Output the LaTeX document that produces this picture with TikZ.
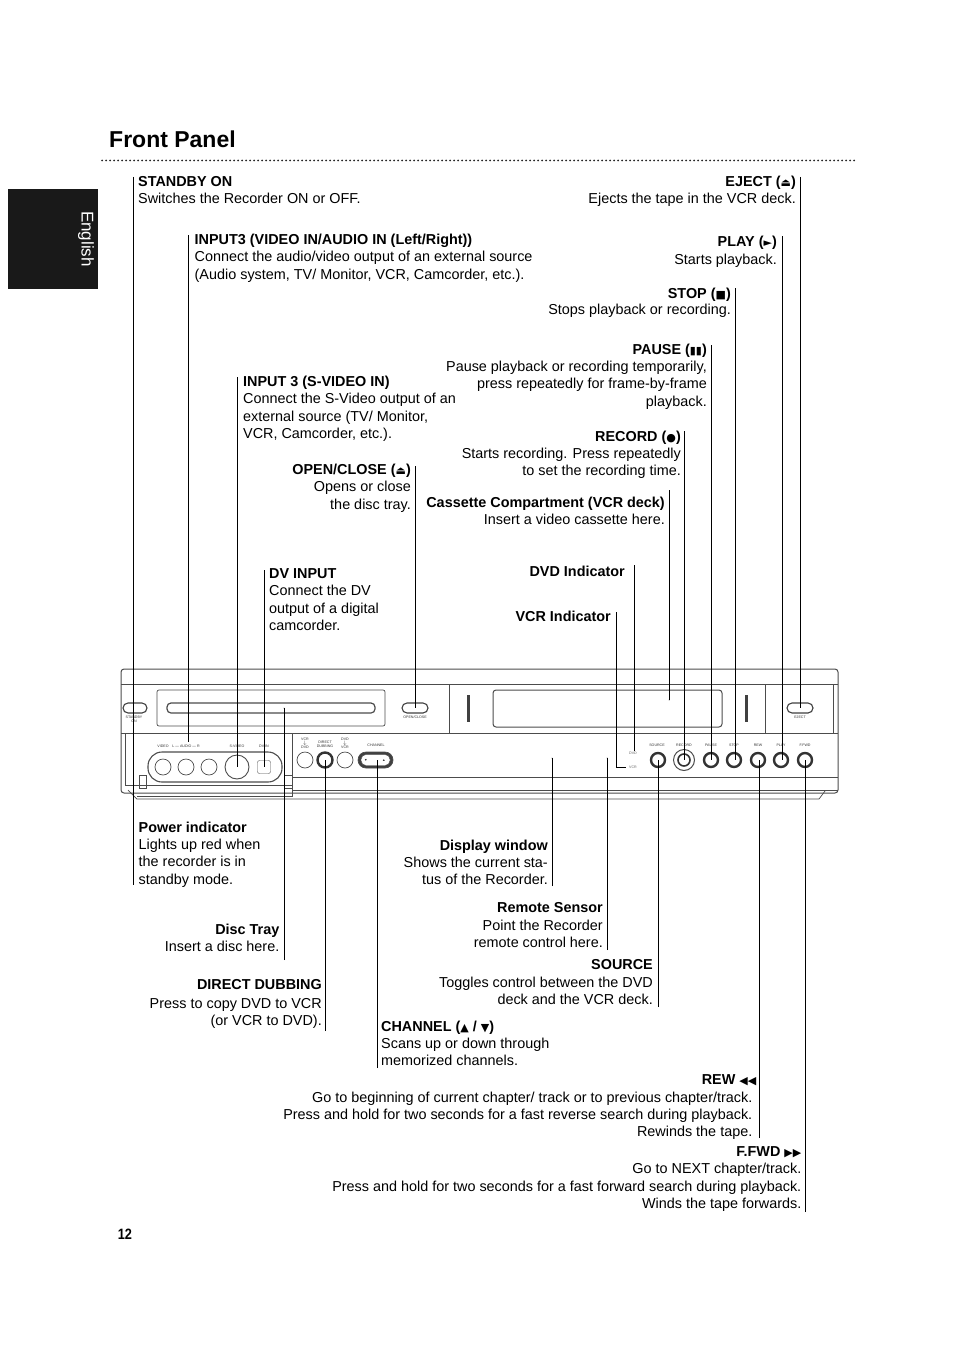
\documentclass[tikz,border=0pt]{standalone}
\usepackage{fontspec}
\setmainfont{Liberation Sans}
\newfontfamily\symfont{DejaVu Sans}
\newcommand{\sym}[1]{{\symfont\fontsize{11}{13}\selectfont #1}}
\begin{document}
\begin{tikzpicture}[x=1pt, y=-1pt,
	toplabel/.style={font=\fontsize{14.4}{17.3}\selectfont, inner sep=0pt, align=left, anchor=north west},
	rightlabel/.style={font=\fontsize{14.4}{17.3}\selectfont, inner sep=0pt, align=right, anchor=north east},
	leader/.style={line width=0.8pt, black},
	panel/.style={line width=0.7pt, black!70},
	tinylabel/.style={font=\fontsize{3.6}{4}\selectfont, inner sep=0pt, text=black!80},
	ring/.style={shape=circle, draw=black!70, line width=0.7pt, fill=white, inner sep=0pt},
	knob/.style={shape=circle, draw=black!80, line width=2.4pt, fill=white, inner sep=0pt, minimum size=14pt},
	pill/.style={shape=rectangle, rounded corners=5pt, draw=black!75, line width=1.1pt, fill=white, inner sep=0pt, minimum width=26pt, minimum height=10pt}]
	\useasboundingbox (0, 0) rectangle (954, 1351);
	% Heading and side tab:
	\node[font=\bfseries\fontsize{23}{26}\selectfont, inner sep=0pt, anchor=north west] (title) at (109, 131){Front Panel};
	\draw[line width=2pt, dash pattern={on 0pt off 4pt}, line cap=round, black!85] (102, 160.5) -- (855, 160.5);
	\node[shape=rectangle, fill=black!90, minimum width=90pt, minimum height=100pt, inner sep=0pt] (tab) at (53, 239){};
	\node[font=\fontsize{17}{20}\selectfont, text=white, rotate=-90, inner sep=0pt] (tabtext) at (86, 239){English};
	\node[font=\bfseries\fontsize{15}{17}\selectfont, xscale=0.85, inner sep=0pt] (page) at (125, 1234){12};
	% Recorder body:
	\draw[panel, rounded corners=3pt, line width=1pt] (121, 793) -- (121, 669) -- (838, 669) -- (838, 793) -- cycle;
	\draw[panel] (121, 684) -- (838, 684);
	\draw[panel] (121, 733) -- (838, 733);
	\draw[panel] (293, 777) -- (838, 777);
	\draw[panel] (293, 790) -- (838, 790);
	\draw[panel] (128, 790) -- (137, 799) -- (819, 799) -- (825, 791);
	\draw[panel] (125, 733) -- (125, 785) -- (292, 785);
	\draw[panel] (292, 733) -- (292, 796) -- (137, 796);
	\draw[panel] (139, 775) rectangle (146, 788);
	\draw[panel] (284, 775) rectangle (292, 788);
	\draw[panel, rounded corners=2pt] (157, 690) rectangle (385, 726);
	\draw[panel, rounded corners=4pt, line width=1.2pt] (167, 703) rectangle (375, 713);
	\draw[panel] (449, 684) rectangle (765, 733);
	\draw[panel] (833, 684) -- (833, 733);
	\draw[panel, rounded corners=3pt, line width=1pt] (493, 690) rectangle (722, 727);
	\fill[black!75] (467, 695) rectangle (469.5, 722);
	\fill[black!75] (745, 695) rectangle (747.5, 722);
	\draw[panel, rounded corners=14pt, line width=1.1pt] (148, 752) rectangle (282, 782);
	\draw[panel, rounded corners=8pt, fill=black!75] (358, 752) rectangle (393, 768);
	\node[shape=rectangle, rounded corners=5pt, fill=white, draw=black!70, minimum width=29pt, minimum height=11pt, inner sep=0pt] (chanbtn) at (375.5, 760){};
	\node[tinylabel] (chandn) at (366, 760){▼};
	\node[tinylabel] (chanup) at (384, 760){▲};
	% Buttons and sockets:
	\node[pill, minimum width=24pt] (standby) at (135, 708){};
	\node[pill] (openclose) at (415, 708){};
	\node[pill] (eject) at (800, 708){};
	\node[ring, minimum size=16pt] (videoin) at (163, 767){};
	\node[ring, minimum size=16pt] (audiol) at (186, 767){};
	\node[ring, minimum size=16pt] (audior) at (209, 767){};
	\node[ring, minimum size=24pt, line width=0.9pt] (svideo) at (237, 767){};
	\node[shape=rectangle, rounded corners=2pt, draw=black!70, fill=white, minimum size=13pt, inner sep=0pt] (dvin) at (264, 767){};
	\node[ring, minimum size=16pt] (vcrdvd) at (305, 760){};
	\node[knob, minimum size=15pt] (dubbing) at (325, 760){};
	\node[ring, minimum size=16pt] (dvdvcr) at (345, 760){};
	\node[knob] (source) at (658, 760){};
	\node[ring, minimum size=21pt, line width=1pt] (recordout) at (684, 760){};
	\node[knob, minimum size=12pt, line width=1.6pt] (record) at (684, 760){};
	\node[knob] (pause) at (711, 760){};
	\node[knob] (stop) at (734, 760){};
	\node[knob] (rew) at (758, 760){};
	\node[knob] (play) at (781, 760){};
	\node[knob] (ffwd) at (805, 760){};
	\node[shape=circle, fill=black!70, inner sep=0pt, minimum size=1pt] (remote) at (607, 758){};
	\node[shape=circle, fill=black!70, inner sep=0pt, minimum size=1pt] (display) at (552, 758){};
	\node[shape=circle, fill=black!70, inner sep=0pt, minimum size=1pt] (tray) at (284, 708){};
	\node[shape=circle, fill=black!70, inner sep=0pt, minimum size=1pt] (deck) at (669, 700){};
	% Small print on the panel:
	\node[tinylabel, align=center] (tstandby) at (134, 719){STANDBY\\ON};
	\node[tinylabel] (topen) at (415, 717){OPEN/CLOSE};
	\node[tinylabel] (teject) at (800, 717){EJECT};
	\node[tinylabel] (tvideo) at (163, 746){VIDEO};
	\node[tinylabel] (taudio) at (186, 746){L --- AUDIO --- R};
	\node[tinylabel] (tsvideo) at (237, 746){S-VIDEO};
	\node[tinylabel] (tdvin) at (264, 746){DV IN};
	\node[tinylabel, align=center] (tvcrdvd) at (305, 743){VCR\\$\downarrow$\\DVD};
	\node[tinylabel, align=center] (tdubbing) at (325, 744){DIRECT\\DUBBING};
	\node[tinylabel, align=center] (tdvdvcr) at (345, 743){DVD\\$\downarrow$\\VCR};
	\node[tinylabel] (tchannel) at (376, 745){CHANNEL};
	\node[tinylabel, text=black!60] (tdvd) at (633, 753){DVD};
	\node[tinylabel, text=black!60] (tvcr) at (633, 767){VCR};
	\node[tinylabel] (tsource) at (657, 745){SOURCE};
	\node[tinylabel] (trecord) at (684, 745){RECORD};
	\node[tinylabel] (tpause) at (711, 745){PAUSE};
	\node[tinylabel] (tstop) at (734, 745){STOP};
	\node[tinylabel] (trew) at (758, 745){REW};
	\node[tinylabel] (tplay) at (781, 745){PLAY};
	\node[tinylabel] (tffwd) at (805, 745){F.FWD};
	% Captions above the recorder:
	\node[toplabel] (lstandby) at (138, 176){\textbf{STANDBY ON}\\Switches the Recorder ON or OFF.};
	\node[toplabel] (linput) at (194.5, 234){\textbf{INPUT3 (VIDEO IN/AUDIO IN (Left/Right))}\\Connect the audio/video output of an external source\\(Audio system, TV/ Monitor, VCR, Camcorder, etc.).};
	\node[toplabel] (lsvideo) at (243, 376){\textbf{INPUT 3 (S-VIDEO IN)}\\Connect the S-Video output of an\\external source (TV/ Monitor,\\VCR, Camcorder, etc.).};
	\node[rightlabel] (lopen) at (411, 464){\textbf{OPEN/CLOSE (\sym{⏏})}\\Opens or close\\the disc tray.};
	\node[toplabel] (ldv) at (269, 568.5){\textbf{DV INPUT}\\Connect the DV\\output of a digital\\camcorder.};
	\node[rightlabel] (leject) at (796, 176){\textbf{EJECT (\sym{⏏})}\\[-0.8pt]Ejects the tape in the VCR deck.};
	\node[rightlabel] (lplay) at (777, 235.5){\textbf{PLAY (\sym{►})}\\[1.5pt]Starts playback.};
	\node[rightlabel] (lstop) at (731, 287.5){\textbf{STOP (\sym{■})}\\[-1pt]Stops playback or recording.};
	\node[rightlabel] (lpause) at (707, 343.5){\textbf{PAUSE (\sym{▮▮})}\\Pause playback or recording temporarily,\\press repeatedly for frame-by-frame\\playback.};
	\node[rightlabel] (lrecord) at (681, 430.5){\textbf{RECORD (\sym{●})}\\Starts recording. Press repeatedly\\to set the recording time.};
	\node[rightlabel] (ldeck) at (665, 496.5){\textbf{Cassette Compartment (VCR deck)}\\Insert a video cassette here.};
	\node[rightlabel] (ldvd) at (625, 566){\textbf{DVD Indicator}};
	\node[rightlabel] (lvcr) at (611, 611){\textbf{VCR Indicator}};
	% Captions below the recorder:
	\node[toplabel] (lpower) at (138.5, 821.5){\textbf{Power indicator}\\Lights up red when\\the recorder is in\\standby mode.};
	\node[rightlabel] (ltray) at (279.5, 923.5){\textbf{Disc Tray}\\Insert a disc here.};
	\node[rightlabel] (ldub) at (322, 979.5){\textbf{DIRECT DUBBING}\\[1pt]Press to copy DVD to VCR\\(or VCR to DVD).};
	\node[rightlabel] (ldisplay) at (548, 839.5){\textbf{Display window}\\Shows the current sta-\\tus of the Recorder.};
	\node[rightlabel] (lremote) at (603, 902.5){\textbf{Remote Sensor}\\Point the Recorder\\remote control here.};
	\node[rightlabel] (lsource) at (653, 959.5){\textbf{SOURCE}\\Toggles control between the DVD\\deck and the VCR deck.};
	\node[toplabel] (lchannel) at (381, 1020.5){\textbf{CHANNEL (\sym{▲} / \sym{▼})}\\Scans up or down through\\memorized channels.};
	\node[rightlabel] (lrew) at (756.5, 1074.5){\textbf{REW \sym{◀◀}}};
	\node[rightlabel] (lrewtext) at (752.5, 1091.5){Go to beginning of current chapter/ track or to previous chapter/track.\\Press and hold for two seconds for a fast reverse search during playback.\\Rewinds the tape.};
	\node[rightlabel] (lffwd) at (801.5, 1146.5){\textbf{F.FWD \sym{▶▶}}\\Go to NEXT chapter/track.\\Press and hold for two seconds for a fast forward search during playback.\\Winds the tape forwards.};
	% Free ends of the leaders:
	\coordinate (estandby) at (133, 177);
	\coordinate (epower) at (133, 885);
	\coordinate (einput) at (188, 235);
	\coordinate (einputb) at (188, 742);
	\coordinate (esvideo) at (237, 377);
	\coordinate (edv) at (264, 570);
	\coordinate (eopen) at (415, 466);
	\coordinate (etray) at (284, 960);
	\coordinate (edub) at (325, 1031);
	\coordinate (echan) at (377, 1068);
	\coordinate (edisplay) at (552, 886);
	\coordinate (eremote) at (607, 950);
	\coordinate (esource) at (658, 1007);
	\coordinate (erew) at (759, 1138);
	\coordinate (effwd) at (805, 1212);
	\coordinate (evcr) at (616, 612);
	\coordinate (evcrend) at (626, 767);
	\coordinate (edvd) at (634, 565);
	\coordinate (edvdend) at (634, 751);
	\coordinate (edeck) at (669, 490);
	\coordinate (erecord) at (684, 431);
	\coordinate (epause) at (711, 345);
	\coordinate (estop) at (735, 288);
	\coordinate (eplay) at (782, 236);
	\coordinate (eeject) at (800, 177);
	% Leaders:
	\draw[leader] (estandby) -- (epower);
	\draw[leader] (einput) -- (einputb);
	\draw[leader] (esvideo) -- (svideo.center);
	\draw[leader] (edv) -- (dvin.center);
	\draw[leader] (eopen) -- (openclose.center);
	\draw[leader] (etray) -- (tray.center);
	\draw[leader] (edub) -- (dubbing.center);
	\draw[leader] (echan) -- (chanbtn.center -| echan);
	\draw[leader] (edisplay) -- (display.center);
	\draw[leader] (eremote) -- (remote.center);
	\draw[leader] (esource) -- (source.center);
	\draw[leader] (erew) -- (rew.center -| erew);
	\draw[leader] (effwd) -- (ffwd.center);
	\draw[leader] (evcr) |- (evcrend);
	\draw[leader] (edvd) -- (edvdend);
	\draw[leader] (edeck) -- (deck.center);
	\draw[leader] (erecord) -- (record.center);
	\draw[leader] (epause) -- (pause.center);
	\draw[leader] (estop) -- (stop.center -| estop);
	\draw[leader] (eplay) -- (play.center -| eplay);
	\draw[leader] (eeject) -- (eject.center);
\end{tikzpicture}
\end{document}
